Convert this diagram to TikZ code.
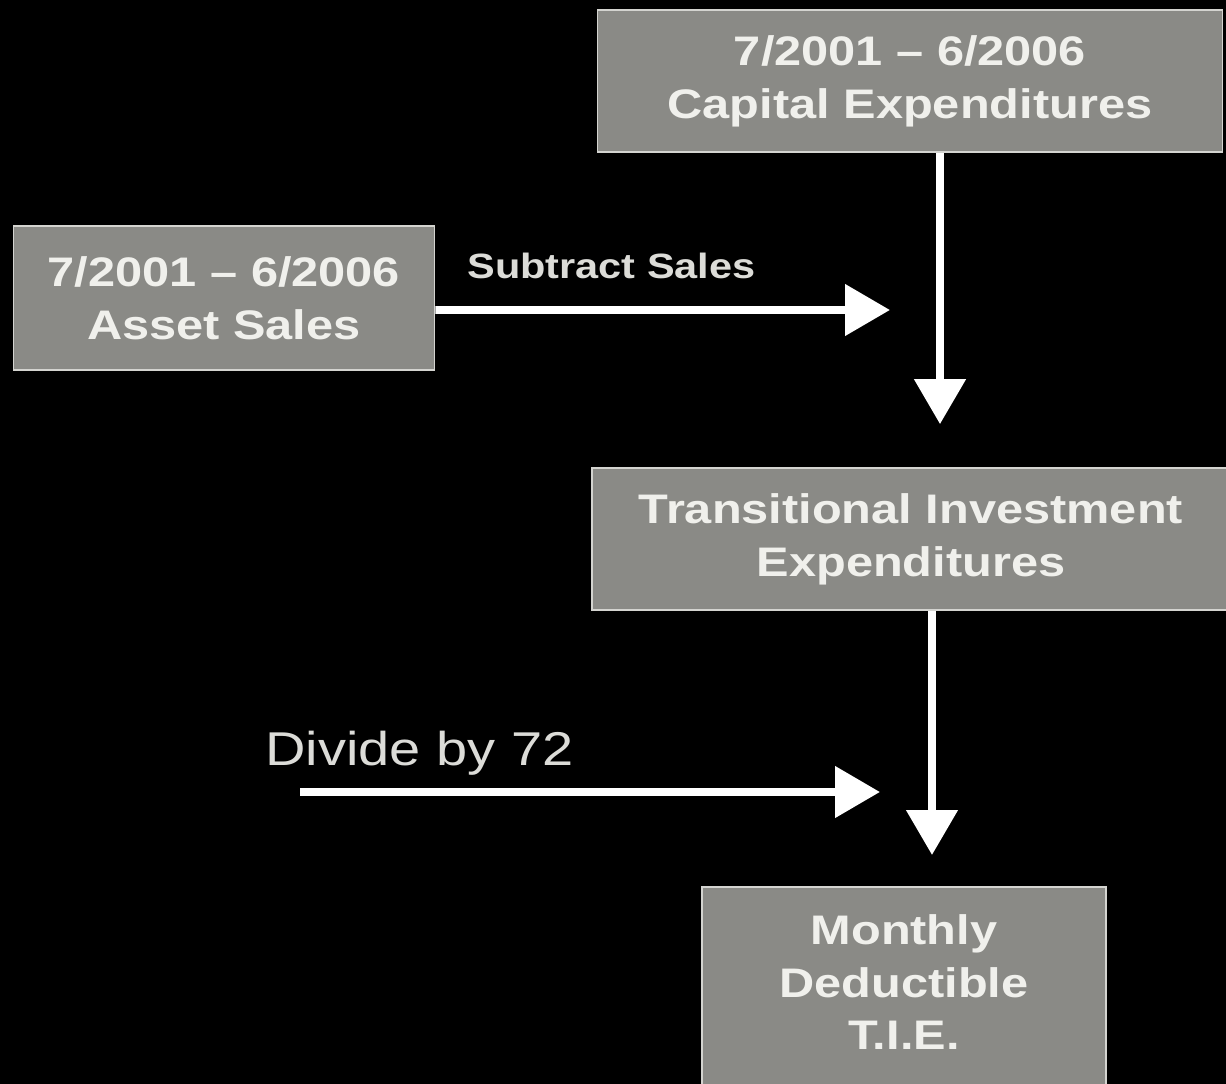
\documentclass[tikz,border=0pt]{standalone}
\usepackage{fontspec}
\setmainfont{Liberation Sans}[FakeStretch=1.18]
\usetikzlibrary{arrows.meta,positioning}
\definecolor{panel}{HTML}{8A8A86}
\definecolor{rim}{HTML}{D4D4D0}
\definecolor{ink}{HTML}{F0F0EC}
\definecolor{note}{HTML}{DCDCD8}

\begin{document}
\begin{tikzpicture}[x=0.02cm,y=-0.02cm,
  box/.style={draw=rim,line width=1pt,fill=panel,text=ink,font=\fontsize{23.5}{30}\selectfont\bfseries,align=center,inner sep=0pt},
  lbl/.style={text=note,inner sep=0pt,anchor=base west},
  arr/.style={-{Triangle[length=0.9cm,width=1cm]},line width=4.5pt,white}]
\fill[black] (0,0) rectangle (1226,1084);
\useasboundingbox (0,0) rectangle (1226,1084);
% boxes
\node[box,minimum width=12.5cm,minimum height=2.84cm] (cap) at (910,81) {7/2001 -- 6/2006\\Capital Expenditures};
\node[box,minimum width=8.42cm,minimum height=2.88cm] (asset) at (224,298) {7/2001 -- 6/2006\\Asset Sales};
\node[box,minimum width=12.76cm,minimum height=2.84cm] (tie) at (911,539) {Transitional Investment\\Expenditures};
\node[box,minimum width=8.08cm,inner ysep=0.55cm,anchor=north] (tde) at (904,886) {Monthly\\Deductible\\T.I.E.\\\rule{0pt}{1.2cm}};
% labels
\node[lbl,font=\fontsize{20}{24}\selectfont\bfseries] (subl) at (467,278) {Subtract Sales};
\node[lbl,font=\fontsize{27}{32}\selectfont] (divl) at (265,765) {Divide by 72};
% free arrow ends
\coordinate (subtip) at (890,310);
\coordinate (divstart) at (300,792);
\coordinate (divtip) at (880,792);
\coordinate (colA) at (940,0);
\coordinate (colB) at (932,0);
% arrows
\draw[arr,shorten >=0.86cm] (cap.south -| colA) -- (tie.north -| colA);
\draw[arr,shorten >=0.62cm] (tie.south -| colB) -- (tde.north -| colB);
\draw[arr] ([yshift=-0.24cm]asset.east) -- (subtip);
\draw[arr] (divstart) -- (divtip);
\end{tikzpicture}
\end{document}
